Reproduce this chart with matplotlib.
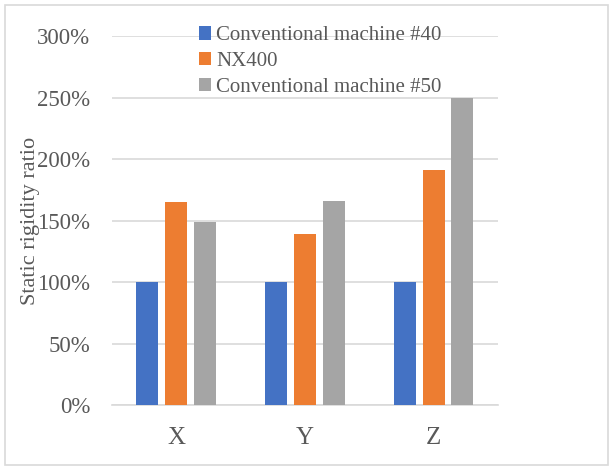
import numpy as np
import matplotlib.pyplot as plt
from matplotlib.patches import Rectangle

categories = ['X', 'Y', 'Z']
series_names = ['Conventional machine #40', 'NX400', 'Conventional machine #50']
machine_40 = [100, 100, 100]
nx400 = [165, 139, 191]
machine_50 = [148.5, 166, 250]
y_ticks = [0, 50, 100, 150, 200, 250, 300]

colors = ['#4472C4', '#ED7D31', '#A5A5A5']
text_color = '#595959'
plt.rcParams['font.family'] = ['Liberation Serif', 'DejaVu Serif']

fig = plt.figure(figsize=(6.11, 4.68), dpi=100)
ax = fig.add_axes([0.183, 0.1346, 0.632, 0.7884])

# rand around the whole chart
fig.patches.append(Rectangle((0.008, 0.006), 0.987, 0.984, transform=fig.transFigure,
                             fill=False, edgecolor='#D9D9D9', linewidth=1.2))

x = np.arange(len(categories))
width = 0.171
offset = 0.223
for i, (vals, name) in enumerate(zip([machine_40, nx400, machine_50], series_names)):
    ax.bar(x + (i - 1) * offset, vals, width, color=colors[i], label=name, zorder=3)

ax.set_xlim(-0.5, 2.5)
ax.set_ylim(0, 300)
ax.set_yticks(y_ticks)
ax.set_yticklabels([f'{t}%' for t in y_ticks])
ax.set_xticks(x)
ax.set_xticklabels(categories)
ax.tick_params(axis='both', length=0, colors=text_color)
ax.tick_params(axis='y', pad=15.5, labelsize=16.5)
ax.tick_params(axis='x', pad=16, labelsize=18)
ax.grid(axis='y', color='#D9D9D9', linewidth=1.2, zorder=0)
for s in ['top', 'right', 'left']:
    ax.spines[s].set_visible(False)
ax.spines['bottom'].set_color('#D9D9D9')
ax.spines['bottom'].set_linewidth(1.2)

ax.set_ylabel('Static rigidity ratio', fontsize=16, color=text_color)
ax.yaxis.set_label_coords(-0.185, 0.5)

leg = ax.legend(loc='upper left', bbox_to_anchor=(0.203, 1.049), frameon=False,
                fontsize=15, handlelength=0.6, handleheight=0.6, handletextpad=0.25,
                labelspacing=0.33, borderaxespad=0)
for t in leg.get_texts():
    t.set_color(text_color)

fig.savefig('out.png', dpi=100)
